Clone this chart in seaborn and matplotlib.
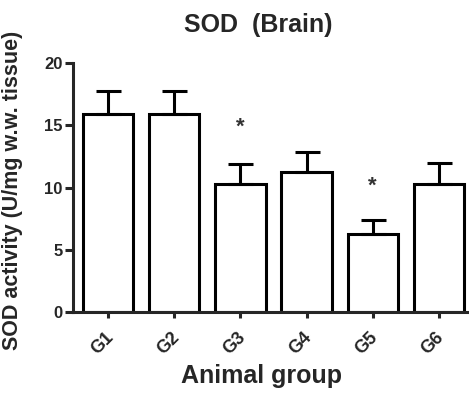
import matplotlib
matplotlib.use("Agg")
import matplotlib.pyplot as plt
import matplotlib.transforms as mtransforms
import seaborn as sns
import pandas as pd

groups = ["G1", "G2", "G3", "G4", "G5", "G6"]
means = [15.9, 15.9, 10.3, 11.25, 6.3, 10.3]
sem = [1.8, 1.8, 1.55, 1.6, 1.1, 1.7]
star_groups = ["G3", "G5"]
star_y = [14.8, 10.1]

sns.set_style("ticks")
plt.rcParams['font.family'] = ['Liberation Sans', 'DejaVu Sans']

df = pd.DataFrame({"group": groups, "mean": means})
fig = plt.figure(figsize=(4.69, 3.94), dpi=100)
ax = fig.add_axes([0.156, 0.207, 0.85, 0.634])

lw = 2.2
sns.barplot(data=df, x="group", y="mean", ax=ax, color="white",
            edgecolor="black", linewidth=lw, width=0.76, errorbar=None)
xs = list(range(len(groups)))
ax.errorbar(xs, means, yerr=[[0]*len(sem), sem], fmt="none", ecolor="black",
            elinewidth=lw, capsize=9, capthick=lw, zorder=1)
for g, y in zip(star_groups, star_y):
    ax.text(groups.index(g), y, "*", ha="center", va="center",
            fontsize=16, fontweight="bold", color="#333333")

ax.set_ylim(0, 20)
ax.set_xlim(-0.53, 5.5)
ax.set_yticks([0, 5, 10, 15, 20])
for s in ["top", "right"]:
    ax.spines[s].set_visible(False)
for s in ["left", "bottom"]:
    ax.spines[s].set_linewidth(lw)
ax.tick_params(axis="y", width=lw, length=6, pad=1.5, labelsize=12)
ax.tick_params(axis="x", width=lw, length=4, pad=8, labelsize=13)
for lab in ax.get_xticklabels() + ax.get_yticklabels():
    lab.set_fontweight("bold")
offset = mtransforms.ScaledTranslation(-6/100, 0, fig.dpi_scale_trans)
for lab in ax.get_xticklabels():
    lab.set_rotation(45)
    lab.set_ha("center")
    lab.set_transform(lab.get_transform() + offset)
ax.set_xlabel("Animal group", fontsize=18, fontweight="bold")
ax.xaxis.set_label_coords(0.472, -0.205)
ax.set_ylabel("SOD activity (U/mg w.w. tissue)", fontsize=15.5, fontweight="bold")
ax.yaxis.set_label_coords(-0.125, 0.49)
ax.text(0.464, 1.15, "SOD  (Brain)", transform=ax.transAxes, ha="center",
        va="center", fontsize=18, fontweight="bold")

fig.savefig("out.png", dpi=100)
